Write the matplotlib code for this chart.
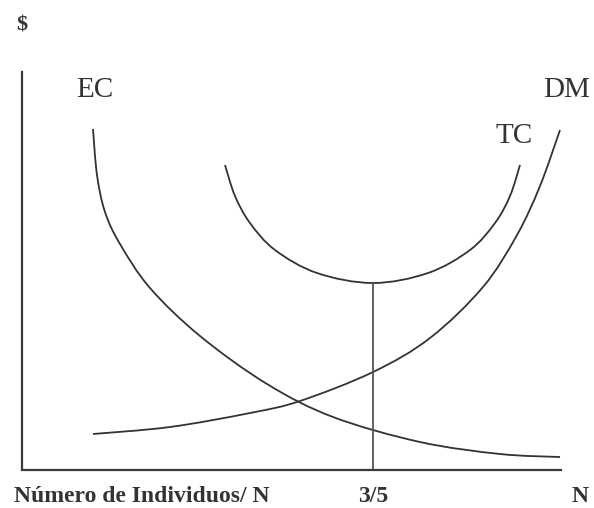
import matplotlib.pyplot as plt
from matplotlib.path import Path
from matplotlib.patches import PathPatch

# points (x to the right of the y axis, y above the x axis)
ec_x = [71, 75, 83, 98, 128, 178, 245, 311, 398, 478, 538]
ec_y = [341, 295, 258, 226, 182, 134, 86, 53, 28, 16, 13]

dm_x = [71, 148, 228, 278, 351, 408, 461, 495, 518, 538]
dm_y = [36, 43, 57, 69, 98, 132, 183, 235, 284, 340]

tc_x = [203, 213, 228, 253, 295, 351, 406, 448, 473, 488, 498]
tc_y = [305, 274, 247, 220, 197, 187, 197, 220, 247, 274, 305]

q_star = 351        # 3/5
q_star_cost = 187   # bottom of TC

x_end = 539
y_top = 398

ink = '#333333'


def smooth_curve(ax, xs, ys, **kw):
    # draw a smooth line through the read points (Catmull-Rom as cubic Beziers)
    pts = list(zip(xs, ys))
    verts = [pts[0]]
    codes = [Path.MOVETO]
    for i in range(len(pts) - 1):
        p0 = pts[max(i - 1, 0)]
        p1 = pts[i]
        p2 = pts[i + 1]
        p3 = pts[min(i + 2, len(pts) - 1)]
        c1 = (p1[0] + (p2[0] - p0[0]) / 6, p1[1] + (p2[1] - p0[1]) / 6)
        c2 = (p2[0] - (p3[0] - p1[0]) / 6, p2[1] - (p3[1] - p1[1]) / 6)
        verts += [c1, c2, p2]
        codes += [Path.CURVE4] * 3
    ax.add_patch(PathPatch(Path(verts, codes), fill=False, **kw))


plt.figure(figsize=(5.94, 5.08), dpi=100)
ax = plt.axes([0, 0, 1, 1])
ax.set_xlim(-22, 572)
ax.set_ylim(-38, 470)
ax.axis('off')

smooth_curve(ax, ec_x, ec_y, edgecolor=ink, lw=1.3, capstyle='butt')
smooth_curve(ax, dm_x, dm_y, edgecolor=ink, lw=1.3, capstyle='butt')
smooth_curve(ax, tc_x, tc_y, edgecolor=ink, lw=1.3, capstyle='butt')
ax.plot([q_star, q_star], [0, q_star_cost], color='#555555', lw=1.3)

# axes
ax.plot([0, 0, x_end], [y_top, 0, 0], color='#3a3a3a', lw=1.6, solid_joinstyle='miter')

serif = ['Liberation Serif', 'DejaVu Serif']
ax.text(73, 380, 'EC', fontsize=21, family=serif, color=ink, ha='center', va='center')
ax.text(545, 380, 'DM', fontsize=21, family=serif, color=ink, ha='center', va='center')
ax.text(492, 334, 'TC', fontsize=21, family=serif, color=ink, ha='center', va='center')

ax.text(0, 444, '$', fontsize=16, family=serif, weight='bold', color=ink, ha='center', va='center')
ax.text(-8, -26, 'Número de Individuos/ N', fontsize=17, family=serif, weight='bold',
        color=ink, ha='left', va='center')
ax.text(q_star, -26, '3/5', fontsize=17, family=serif, weight='bold', color=ink,
        ha='center', va='center')
ax.text(558, -26, 'N', fontsize=17, family=serif, weight='bold', color=ink,
        ha='center', va='center')

plt.savefig('out.png', dpi=100)
